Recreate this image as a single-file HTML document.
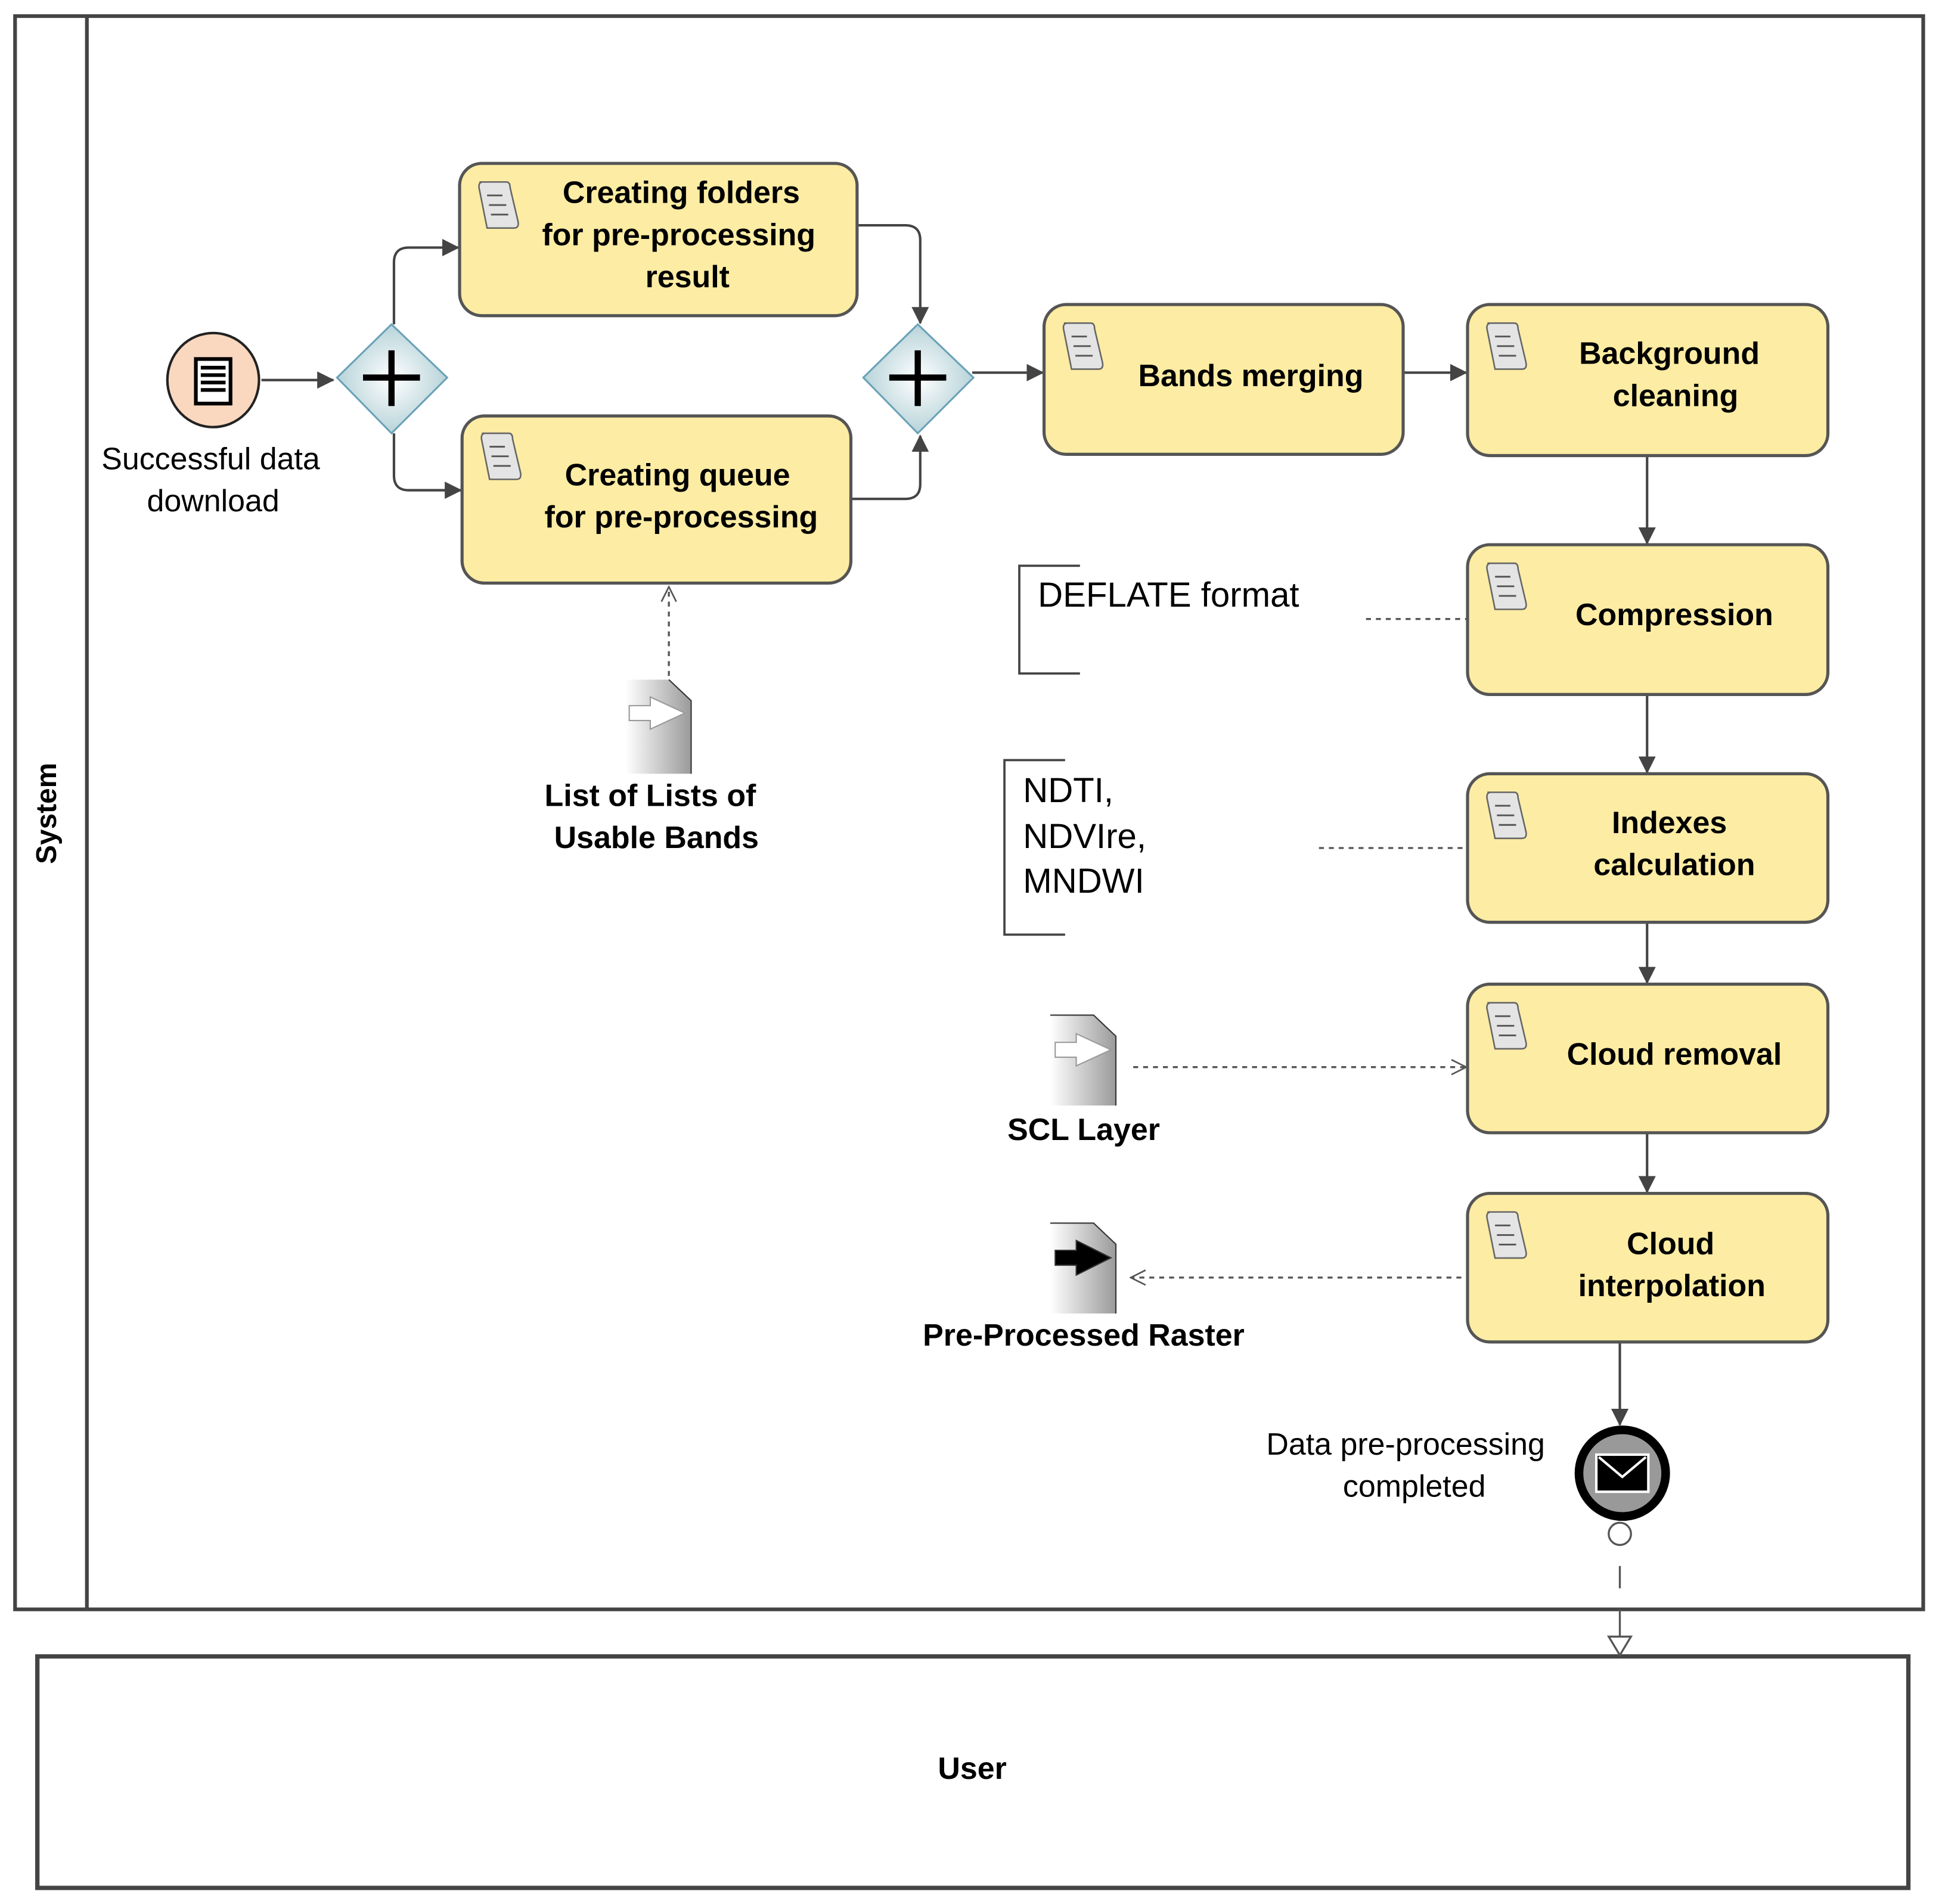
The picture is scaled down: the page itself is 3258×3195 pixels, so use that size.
<!DOCTYPE html>
<html><head><meta charset="utf-8"><style>html,body{margin:0;padding:0;background:#fff}svg{display:block}</style></head>
<body>
<svg xmlns="http://www.w3.org/2000/svg" width="3258" height="3195" viewBox="0 0 1568 1538" font-family="Liberation Sans, Arial, sans-serif">
<defs>
<radialGradient id="gwr" cx="0.5" cy="0.5" r="0.6"><stop offset="0" stop-color="#ffffff"/><stop offset="1" stop-color="#a8cad1"/></radialGradient>
<linearGradient id="doc" x1="0" y1="0" x2="1" y2="0"><stop offset="0" stop-color="#ffffff"/><stop offset="1" stop-color="#9a9a9a"/></linearGradient>
<marker id="ar" markerWidth="14" markerHeight="14" refX="13" refY="7" orient="auto" markerUnits="userSpaceOnUse"><path d="M0,0 L14,7 L0,14 z" fill="#444"/></marker>
<marker id="ao" markerWidth="14" markerHeight="14" refX="13" refY="7" orient="auto" markerUnits="userSpaceOnUse"><path d="M1,1 L13,7 L1,13" fill="none" stroke="#555" stroke-width="1.3"/></marker>
<g id="tk" transform="scale(1.55)"><path d="M0,0 h14 q2,0 2,3 l4,17 q1,4 -2,4 h-14 l-4,-20 q-1,-4 2,-4z" fill="#e4e4e4" stroke="#666" stroke-width="0.8"/><path d="M4,7 h8 M5,12 h9 M6,17 h9" stroke="#555" stroke-width="0.9"/></g>
</defs>
<rect x="12" y="13" width="1541" height="1287" fill="none" stroke="#444" stroke-width="3"/>
<line x1="70" y1="13" x2="70" y2="1300" stroke="#444" stroke-width="3"/>
<text x="45" y="657" transform="rotate(-90 45 657)" text-anchor="middle" font-weight="bold" font-size="23">System</text>
<rect x="30" y="1338" width="1511" height="187" fill="none" stroke="#444" stroke-width="3.5"/>
<text x="785" y="1437" text-anchor="middle" font-weight="bold" font-size="25">User</text>

<g stroke="#444" stroke-width="2" fill="none">
<path d="M211,307 H269" marker-end="url(#ar)"/>
<path d="M318,262 V212 q0,-12 12,-12 H370" marker-end="url(#ar)"/>
<path d="M318,350 V384 q0,12 12,12 H372" marker-end="url(#ar)"/>
<path d="M692,182 H731 q12,0 12,12 V261" marker-end="url(#ar)"/>
<path d="M687,403 H731 q12,0 12,-12 V352" marker-end="url(#ar)"/>
<path d="M785,301 H842" marker-end="url(#ar)"/>
<path d="M1133,301 H1184" marker-end="url(#ar)"/>
<path d="M1330,368 V439" marker-end="url(#ar)"/>
<path d="M1330,561 V624" marker-end="url(#ar)"/>
<path d="M1330,745 V794" marker-end="url(#ar)"/>
<path d="M1330,915 V963" marker-end="url(#ar)"/>
<path d="M1308,1084 V1151" marker-end="url(#ar)"/>
</g>
<g stroke="#555" stroke-width="1.6" fill="none" stroke-dasharray="4,4">
<path d="M540,546 V474" marker-end="url(#ao)"/>
<path d="M915,862 H1184" marker-end="url(#ao)"/>
<path d="M1180,1032 H913" marker-end="url(#ao)"/>
<path d="M1103,500 H1185"/>
<path d="M1065,685 H1185"/>
</g>
<g stroke="#555" stroke-width="1.6" fill="none">
<path d="M1308,1265 V1283"/>
<path d="M1308,1300 V1322"/>
<path d="M1299,1322 L1317,1322 L1308,1337 z" fill="#fff"/>
</g>

<ellipse cx="172" cy="307" rx="37" ry="38" fill="#fad8c0" stroke="#222" stroke-width="2"/>
<rect x="158" y="290" width="28" height="36" fill="#fff" stroke="#000" stroke-width="3"/>
<path d="M162,297 h20 M162,303 h20 M162,309 h20 M162,315 h20" stroke="#000" stroke-width="3"/>
<text font-size="25" text-anchor="middle"><tspan x="170" y="379">Successful data</tspan><tspan x="172" y="413">download</tspan></text>

<g stroke="#6aa2b8" stroke-width="1.5">
<path d="M316,262 L361,305 L316,350 L272,305 z" fill="url(#gwr)"/>
<path d="M741,262 L786,305 L741,350 L697,305 z" fill="url(#gwr)"/>
</g>
<path d="M316,283 V328 M293,305 H339 M741,283 V328 M718,305 H764" stroke="#000" stroke-width="5"/>

<g fill="#fdeca3" stroke="#555" stroke-width="2.5">
<rect x="371" y="132" width="321" height="123" rx="18"/>
<rect x="373" y="336" width="314" height="135" rx="18"/>
<rect x="843" y="246" width="290" height="121" rx="18"/>
<rect x="1185" y="246" width="291" height="122" rx="18"/>
<rect x="1185" y="440" width="291" height="121" rx="18"/>
<rect x="1185" y="625" width="291" height="120" rx="18"/>
<rect x="1185" y="795" width="291" height="120" rx="18"/>
<rect x="1185" y="964" width="291" height="120" rx="18"/>
</g>
<use href="#tk" x="387" y="147"/><use href="#tk" x="389" y="350"/><use href="#tk" x="859" y="261"/>
<use href="#tk" x="1201" y="261"/><use href="#tk" x="1201" y="455"/><use href="#tk" x="1201" y="640"/>
<use href="#tk" x="1201" y="810"/><use href="#tk" x="1201" y="979"/>
<g font-size="25" font-weight="bold" text-anchor="middle">
<text><tspan x="550" y="164">Creating folders</tspan><tspan x="548" y="198">for pre-processing</tspan><tspan x="555" y="232">result</tspan></text>
<text><tspan x="547" y="392">Creating queue</tspan><tspan x="550" y="426">for pre-processing</tspan></text>
<text x="1010" y="312">Bands merging</text>
<text><tspan x="1348" y="294">Background</tspan><tspan x="1353" y="328">cleaning</tspan></text>
<text x="1352" y="505">Compression</text>
<text><tspan x="1348" y="673">Indexes</tspan><tspan x="1352" y="707">calculation</tspan></text>
<text x="1352" y="860">Cloud removal</text>
<text><tspan x="1349" y="1013">Cloud</tspan><tspan x="1350" y="1047">interpolation</tspan></text>
</g>

<path d="M872,457 H823 V544 H872" fill="none" stroke="#444" stroke-width="1.8"/>
<text x="838" y="490" font-size="28">DEFLATE format</text>
<path d="M860,614 H811 V755 H860" fill="none" stroke="#444" stroke-width="1.8"/>
<text font-size="28"><tspan x="826" y="648">NDTI,</tspan><tspan x="826" y="685">NDVIre,</tspan><tspan x="826" y="721">MNDWI</tspan></text>

<g stroke="#333" stroke-width="1">
<path d="M505,549 H540 L558,566 V625 H505 z" fill="url(#doc)" stroke="none"/>
<path d="M540,549 L558,566 V625" fill="none"/>
<path d="M508,570 H525 V563 L553,576 L525,589 V582 H508 z" fill="#fff" stroke="#999"/>
<path d="M848,820 H883 L901,837 V893 H848 z" fill="url(#doc)" stroke="none"/>
<path d="M848,820 H883 L901,837 V893" fill="none"/>
<path d="M852,842 H869 V835 L897,848 L869,861 V854 H852 z" fill="#fff" stroke="#999"/>
<path d="M848,988 H883 L901,1005 V1061 H848 z" fill="url(#doc)" stroke="none"/>
<path d="M848,988 H883 L901,1005 V1061" fill="none"/>
<path d="M852,1010 H869 V1002 L897,1016 L869,1030 V1022 H852 z" fill="#000"/>
</g>
<g font-size="25" font-weight="bold" text-anchor="middle">
<text><tspan x="525" y="651">List of Lists of</tspan><tspan x="530" y="685">Usable Bands</tspan></text>
<text x="875" y="921">SCL Layer</text>
<text x="875" y="1087">Pre-Processed Raster</text>
</g>

<ellipse cx="1310" cy="1190" rx="35" ry="35" fill="#999" stroke="#000" stroke-width="7"/>
<rect x="1289" y="1175" width="42" height="30" fill="#000" stroke="#fff" stroke-width="2"/>
<path d="M1291,1177 L1310,1193 L1329,1177" fill="none" stroke="#fff" stroke-width="2"/>
<circle cx="1308" cy="1239" r="9" fill="#fff" stroke="#555" stroke-width="1.6"/>
<text font-size="25" text-anchor="middle"><tspan x="1135" y="1175">Data pre-processing</tspan><tspan x="1142" y="1209">completed</tspan></text>
</svg>
</body></html>
